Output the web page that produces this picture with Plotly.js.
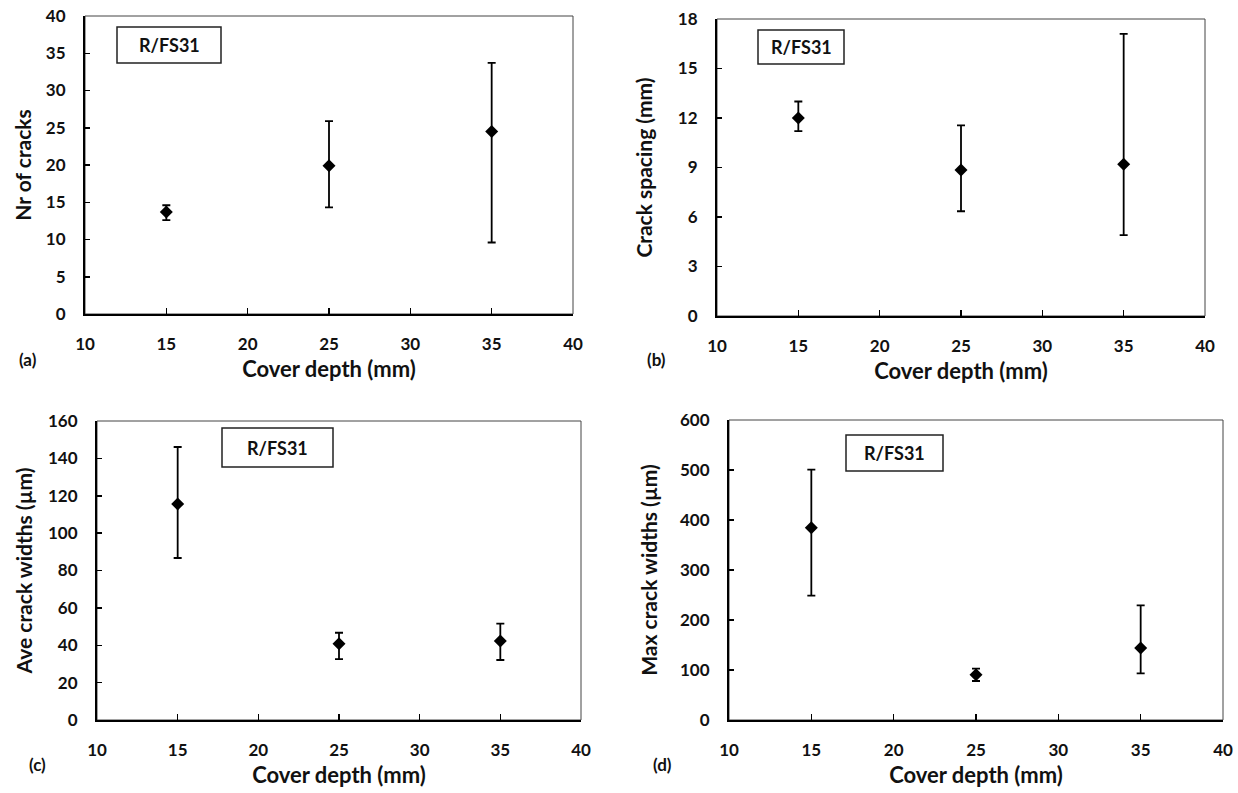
<!DOCTYPE html>
<html>
<head>
<meta charset="utf-8">
<script src="https://cdn.plot.ly/plotly-3.0.1.min.js"></script>
<style>html,body{margin:0;padding:0;background:#fff}#chart{width:1238px;height:793px}</style>
</head>
<body>
<div id="chart"></div>
<script>
// ---- data ----
const coverDepth = [15, 25, 35];
const nrCracks = [13.7, 19.9, 24.5];
const nrCracksPlus = [0.9, 6.0, 9.2];
const nrCracksMinus = [1.1, 5.6, 14.9];
const crackSpacing = [12.0, 8.85, 9.2];
const crackSpacingPlus = [1.0, 2.7, 7.9];
const crackSpacingMinus = [0.8, 2.5, 4.3];
const aveWidth = [115.6, 40.8, 42.3];
const aveWidthPlus = [30.5, 5.9, 9.3];
const aveWidthMinus = [28.9, 8.2, 10.2];
const maxWidth = [384.7, 90.7, 144.0];
const maxWidthPlus = [116.0, 12.0, 85.3];
const maxWidthMinus = [136.0, 12.7, 50.7];
const xTicks = [10, 15, 20, 25, 30, 35, 40];
const yTicksA = [0, 5, 10, 15, 20, 25, 30, 35, 40];
const yTicksB = [0, 3, 6, 9, 12, 15, 18];
const yTicksC = [0, 20, 40, 60, 80, 100, 120, 140, 160];
const yTicksD = [0, 100, 200, 300, 400, 500, 600];
const yTitles = ["Nr of cracks", "Crack spacing (mm)", "Ave crack widths (\u00b5m)", "Max crack widths (\u00b5m)"];
const xTitle = "Cover depth (mm)";
const panelLabels = ["(a)", "(b)", "(c)", "(d)"];
const boxLabel = "R/FS31";

// ---- layout geometry (pixels) ----
const W = 1238, H = 793;
const px = x => x / W, py = y => 1 - y / H;
const panels = [
  {rect: [85, 16, 573, 314], ticks: yTicksA, y: nrCracks, p: nrCracksPlus, m: nrCracksMinus, box: [117, 27, 221, 63], lab: [28, 360], standoff: 9},
  {rect: [717, 19, 1205, 316], ticks: yTicksB, y: crackSpacing, p: crackSpacingPlus, m: crackSpacingMinus, box: [758, 30, 844, 64], lab: [656, 360], standoff: 20},
  {rect: [97, 421, 581, 720], ticks: yTicksC, y: aveWidth, p: aveWidthPlus, m: aveWidthMinus, box: [222, 428, 333, 467], lab: [37, 764], standoff: 10},
  {rect: [729, 420, 1223, 720], ticks: yTicksD, y: maxWidth, p: maxWidthPlus, m: maxWidthMinus, box: [846, 435, 943, 471], lab: [662, 764], standoff: 17}
];

const FONT = "Lato, 'Open Sans', sans-serif";
const traces = [];
const layout = {
  width: W, height: H, margin: {l: 0, r: 0, t: 0, b: 0},
  paper_bgcolor: "#fff", plot_bgcolor: "#fff", showlegend: false,
  font: {family: FONT, color: "#111"},
  shapes: [], annotations: []
};

panels.forEach((pn, i) => {
  const n = i === 0 ? "" : String(i + 1);
  const [x0, y0, x1, y1] = pn.rect;
  traces.push({
    x: coverDepth, y: pn.y, xaxis: "x" + n, yaxis: "y" + n,
    type: "scatter", mode: "markers",
    marker: {symbol: "diamond", size: 10, color: "#000"},
    error_y: {type: "data", symmetric: false, array: pn.p, arrayminus: pn.m,
              color: "#000", thickness: 1.8, width: 4}
  });
  const tmax = pn.ticks[pn.ticks.length - 1];
  layout["xaxis" + n] = {
    domain: [px(x0), px(x1)], anchor: "y" + n, range: [10, 40],
    tickvals: xTicks, ticks: "inside", ticklen: 6, tickwidth: 1.5, tickcolor: "#000",
    showline: true, linecolor: "#000", linewidth: 2, showgrid: false, zeroline: false,
    ticklabelstandoff: 14, ticklabeloverflow: "allow",
    tickfont: {family: FONT, size: 17, color: "#111", weight: "bold"},
    title: {text: xTitle, standoff: 8, font: {family: FONT, size: 22, color: "#111", weight: "bold"}},
    automargin: false, fixedrange: true
  };
  layout["yaxis" + n] = {
    domain: [py(y1), py(y0)], anchor: "x" + n, range: [0, tmax],
    tickvals: pn.ticks, ticks: "inside", ticklen: 5, tickwidth: 1.5, tickcolor: "#000",
    showline: true, linecolor: "#000", linewidth: 2, showgrid: false, zeroline: false,
    ticklabelstandoff: 14, ticklabeloverflow: "allow",
    tickfont: {family: FONT, size: 17, color: "#111", weight: "bold"},
    title: {text: yTitles[i], standoff: pn.standoff, font: {family: FONT, size: 21, color: "#111", weight: "bold"}},
    automargin: false, fixedrange: true
  };
  // thin frame on top/right
  layout.shapes.push({type: "rect", xref: "x" + n + " domain", yref: "y" + n + " domain",
    x0: 0, x1: 1, y0: 0, y1: 1, line: {color: "#444", width: 1}, layer: "below"});
  // label box
  const [bx0, by0, bx1, by1] = pn.box;
  layout.shapes.push({type: "rect", xref: "paper", yref: "paper",
    x0: px(bx0), x1: px(bx1), y0: py(by1), y1: py(by0), line: {color: "#222", width: 1.5}, fillcolor: "#fff"});
  layout.annotations.push({xref: "paper", yref: "paper", x: px((bx0 + bx1) / 2), y: py((by0 + by1) / 2),
    text: boxLabel, showarrow: false, xanchor: "center", yanchor: "middle",
    font: {family: FONT, size: 18, color: "#111", weight: "bold"}});
  layout.annotations.push({xref: "paper", yref: "paper", x: px(pn.lab[0]), y: py(pn.lab[1]),
    text: panelLabels[i], showarrow: false, xanchor: "center", yanchor: "middle",
    font: {family: FONT, size: 17, color: "#111", weight: "bold"}});
});

Plotly.newPlot("chart", traces, layout, {displayModeBar: false, staticPlot: true});
</script>
</body>
</html>
